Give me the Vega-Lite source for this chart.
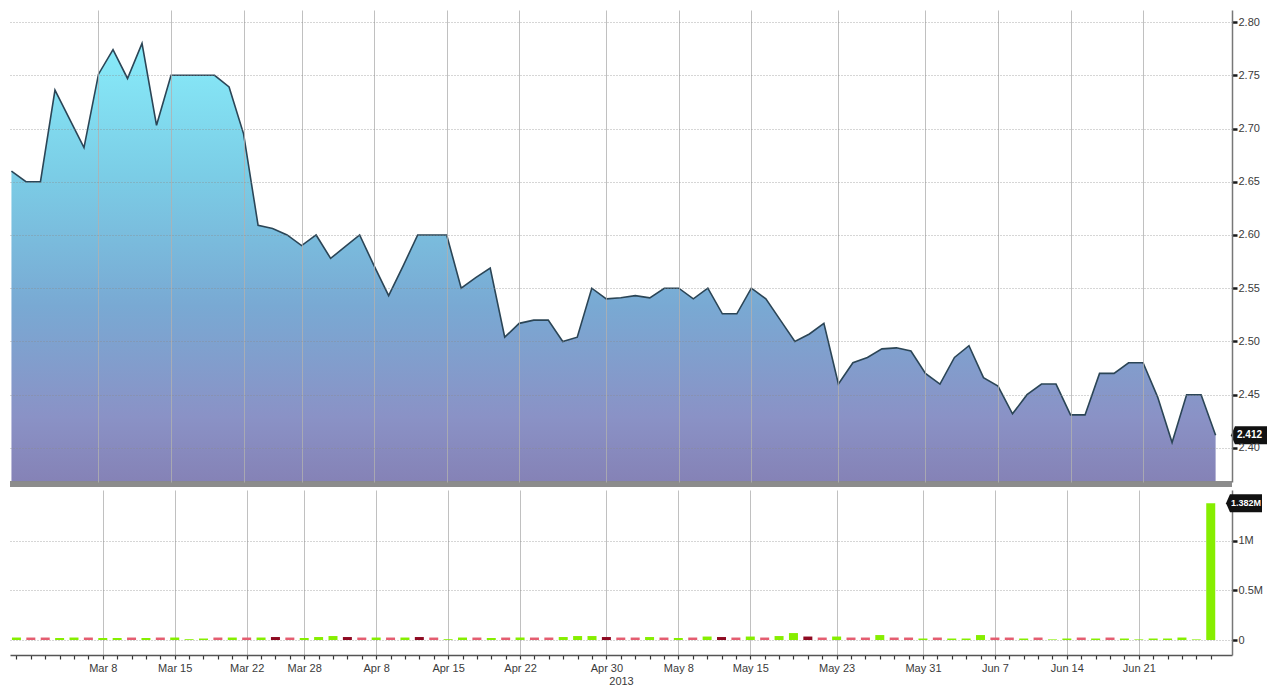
{
  "$schema": "https://vega.github.io/schema/vega-lite/v6.json",
  "padding": {"left": 7, "top": 10, "right": 0, "bottom": 0},
  "background": "white",
  "spacing": 3,
  "config": {
    "view": {"stroke": null},
    "font": "'Liberation Sans Narrow', 'Liberation Sans', sans-serif",
    "axis": {"labelFont": "'Liberation Sans Narrow', 'Liberation Sans', sans-serif", "labelFontSize": 11, "labelColor": "#3a3a3a", "titleFont": "'Liberation Sans Narrow', 'Liberation Sans', sans-serif"}
  },
  "datasets": {
    "d": [
      {"i": 0, "date": "2013-02-28", "p": 2.660, "v": 25000, "c": "up"},
      {"i": 1, "date": "2013-03-01", "p": 2.650, "v": 25000, "c": "dn"},
      {"i": 2, "date": "2013-03-04", "p": 2.650, "v": 25000, "c": "dn"},
      {"i": 3, "date": "2013-03-05", "p": 2.736, "v": 20000, "c": "up"},
      {"i": 4, "date": "2013-03-06", "p": 2.709, "v": 25000, "c": "up"},
      {"i": 5, "date": "2013-03-07", "p": 2.682, "v": 25000, "c": "dn"},
      {"i": 6, "date": "2013-03-08", "p": 2.751, "v": 20000, "c": "up"},
      {"i": 7, "date": "2013-03-11", "p": 2.774, "v": 20000, "c": "up"},
      {"i": 8, "date": "2013-03-12", "p": 2.747, "v": 25000, "c": "dn"},
      {"i": 9, "date": "2013-03-13", "p": 2.780, "v": 20000, "c": "up"},
      {"i": 10, "date": "2013-03-14", "p": 2.703, "v": 25000, "c": "dn"},
      {"i": 11, "date": "2013-03-15", "p": 2.750, "v": 25000, "c": "up"},
      {"i": 12, "date": "2013-03-18", "p": 2.750, "v": 8000, "c": "up"},
      {"i": 13, "date": "2013-03-19", "p": 2.750, "v": 15000, "c": "up"},
      {"i": 14, "date": "2013-03-20", "p": 2.750, "v": 25000, "c": "dn"},
      {"i": 15, "date": "2013-03-21", "p": 2.739, "v": 25000, "c": "up"},
      {"i": 16, "date": "2013-03-22", "p": 2.695, "v": 25000, "c": "dn"},
      {"i": 17, "date": "2013-03-25", "p": 2.609, "v": 25000, "c": "up"},
      {"i": 18, "date": "2013-03-26", "p": 2.606, "v": 30000, "c": "dk"},
      {"i": 19, "date": "2013-03-27", "p": 2.600, "v": 25000, "c": "dn"},
      {"i": 20, "date": "2013-03-28", "p": 2.590, "v": 20000, "c": "up"},
      {"i": 21, "date": "2013-04-02", "p": 2.600, "v": 30000, "c": "up"},
      {"i": 22, "date": "2013-04-03", "p": 2.578, "v": 40000, "c": "up"},
      {"i": 23, "date": "2013-04-04", "p": 2.589, "v": 30000, "c": "dk"},
      {"i": 24, "date": "2013-04-05", "p": 2.600, "v": 25000, "c": "dn"},
      {"i": 25, "date": "2013-04-08", "p": 2.571, "v": 25000, "c": "up"},
      {"i": 26, "date": "2013-04-09", "p": 2.543, "v": 25000, "c": "dn"},
      {"i": 27, "date": "2013-04-10", "p": 2.571, "v": 25000, "c": "up"},
      {"i": 28, "date": "2013-04-11", "p": 2.600, "v": 30000, "c": "dk"},
      {"i": 29, "date": "2013-04-12", "p": 2.600, "v": 25000, "c": "dn"},
      {"i": 30, "date": "2013-04-15", "p": 2.600, "v": 8000, "c": "up"},
      {"i": 31, "date": "2013-04-16", "p": 2.550, "v": 25000, "c": "up"},
      {"i": 32, "date": "2013-04-17", "p": 2.560, "v": 25000, "c": "dn"},
      {"i": 33, "date": "2013-04-18", "p": 2.569, "v": 20000, "c": "up"},
      {"i": 34, "date": "2013-04-19", "p": 2.504, "v": 25000, "c": "dn"},
      {"i": 35, "date": "2013-04-22", "p": 2.517, "v": 25000, "c": "up"},
      {"i": 36, "date": "2013-04-23", "p": 2.520, "v": 25000, "c": "dn"},
      {"i": 37, "date": "2013-04-24", "p": 2.520, "v": 25000, "c": "dn"},
      {"i": 38, "date": "2013-04-25", "p": 2.500, "v": 30000, "c": "up"},
      {"i": 39, "date": "2013-04-26", "p": 2.504, "v": 40000, "c": "up"},
      {"i": 40, "date": "2013-04-29", "p": 2.550, "v": 40000, "c": "up"},
      {"i": 41, "date": "2013-04-30", "p": 2.540, "v": 30000, "c": "dk"},
      {"i": 42, "date": "2013-05-02", "p": 2.541, "v": 25000, "c": "dn"},
      {"i": 43, "date": "2013-05-03", "p": 2.543, "v": 25000, "c": "dn"},
      {"i": 44, "date": "2013-05-06", "p": 2.541, "v": 30000, "c": "up"},
      {"i": 45, "date": "2013-05-07", "p": 2.550, "v": 25000, "c": "dn"},
      {"i": 46, "date": "2013-05-08", "p": 2.550, "v": 20000, "c": "up"},
      {"i": 47, "date": "2013-05-09", "p": 2.540, "v": 25000, "c": "dn"},
      {"i": 48, "date": "2013-05-10", "p": 2.550, "v": 35000, "c": "up"},
      {"i": 49, "date": "2013-05-13", "p": 2.526, "v": 30000, "c": "dk"},
      {"i": 50, "date": "2013-05-14", "p": 2.526, "v": 25000, "c": "dn"},
      {"i": 51, "date": "2013-05-15", "p": 2.550, "v": 35000, "c": "up"},
      {"i": 52, "date": "2013-05-16", "p": 2.540, "v": 25000, "c": "dn"},
      {"i": 53, "date": "2013-05-17", "p": 2.520, "v": 40000, "c": "up"},
      {"i": 54, "date": "2013-05-20", "p": 2.500, "v": 70000, "c": "up"},
      {"i": 55, "date": "2013-05-21", "p": 2.507, "v": 35000, "c": "dk"},
      {"i": 56, "date": "2013-05-22", "p": 2.517, "v": 25000, "c": "dn"},
      {"i": 57, "date": "2013-05-23", "p": 2.460, "v": 35000, "c": "up"},
      {"i": 58, "date": "2013-05-24", "p": 2.480, "v": 25000, "c": "dn"},
      {"i": 59, "date": "2013-05-27", "p": 2.485, "v": 25000, "c": "dn"},
      {"i": 60, "date": "2013-05-28", "p": 2.493, "v": 50000, "c": "up"},
      {"i": 61, "date": "2013-05-29", "p": 2.494, "v": 25000, "c": "dn"},
      {"i": 62, "date": "2013-05-30", "p": 2.491, "v": 25000, "c": "dn"},
      {"i": 63, "date": "2013-05-31", "p": 2.470, "v": 15000, "c": "up"},
      {"i": 64, "date": "2013-06-03", "p": 2.460, "v": 25000, "c": "dn"},
      {"i": 65, "date": "2013-06-04", "p": 2.485, "v": 15000, "c": "up"},
      {"i": 66, "date": "2013-06-05", "p": 2.496, "v": 15000, "c": "up"},
      {"i": 67, "date": "2013-06-06", "p": 2.466, "v": 50000, "c": "up"},
      {"i": 68, "date": "2013-06-07", "p": 2.458, "v": 25000, "c": "dn"},
      {"i": 69, "date": "2013-06-10", "p": 2.432, "v": 25000, "c": "dn"},
      {"i": 70, "date": "2013-06-11", "p": 2.450, "v": 15000, "c": "up"},
      {"i": 71, "date": "2013-06-12", "p": 2.460, "v": 25000, "c": "dn"},
      {"i": 72, "date": "2013-06-13", "p": 2.460, "v": 6000, "c": "up"},
      {"i": 73, "date": "2013-06-14", "p": 2.431, "v": 15000, "c": "up"},
      {"i": 74, "date": "2013-06-17", "p": 2.431, "v": 25000, "c": "dn"},
      {"i": 75, "date": "2013-06-18", "p": 2.470, "v": 15000, "c": "up"},
      {"i": 76, "date": "2013-06-19", "p": 2.470, "v": 25000, "c": "dn"},
      {"i": 77, "date": "2013-06-20", "p": 2.480, "v": 15000, "c": "up"},
      {"i": 78, "date": "2013-06-21", "p": 2.480, "v": 6000, "c": "up"},
      {"i": 79, "date": "2013-06-24", "p": 2.448, "v": 15000, "c": "up"},
      {"i": 80, "date": "2013-06-25", "p": 2.405, "v": 15000, "c": "up"},
      {"i": 81, "date": "2013-06-26", "p": 2.450, "v": 25000, "c": "up"},
      {"i": 82, "date": "2013-06-27", "p": 2.450, "v": 6000, "c": "up"},
      {"i": 83, "date": "2013-06-28", "p": 2.412, "v": 1382000, "c": "up"}
    ]
  },
  "vconcat": [
    {
      "width": 1222,
      "height": 472,
      "data": {"name": "d"},
      "layer": [
        {
          "mark": {
            "type": "area",
            "opacity": 1,
            "line": {"color": "#2b4556", "strokeWidth": 1.6},
            "color": {
              "x1": 0, "y1": 0, "x2": 0, "y2": 1,
              "gradient": "linear",
              "stops": [
                {"offset": 0, "color": "#88ecfa"},
                {"offset": 0.3, "color": "#7bcde6"},
                {"offset": 0.6, "color": "#79a9d3"},
                {"offset": 0.85, "color": "#8a92c6"},
                {"offset": 1, "color": "#8582b6"}
              ]
            }
          },
          "encoding": {
            "x": {
              "field": "i", "type": "quantitative",
              "scale": {"domain": [-0.1, 84.13], "nice": false, "zero": false},
              "axis": {
                "title": null, "labels": false, "ticks": false, "domain": false, "zindex": 1,
                "values": [6, 11, 16, 20, 25, 30, 35, 41, 46, 51, 57, 63, 68, 73, 78],
                "tickCount": 200,
                "grid": true, "gridColor": "#b0b0b0", "gridOpacity": 0.8, "gridWidth": 1
              }
            },
            "y": {
              "field": "p", "type": "quantitative",
              "scale": {"domain": [2.368, 2.8113], "nice": false, "zero": false},
              "axis": {
                "orient": "right", "title": null, "zindex": 1,
                "values": [2.4, 2.45, 2.5, 2.55, 2.6, 2.65, 2.7, 2.75, 2.8],
                "format": ".2f",
                "grid": true, "gridColor": "#8a8a8a", "gridOpacity": 0.7, "gridDash": [1, 2],
                "tickSize": 5, "tickWidth": 2.5, "tickColor": "#1a1a1a",
                "domainColor": "#777", "domainWidth": 1.5, "labelPadding": 1
              }
            },
            "y2": {"datum": 2.368}
          }
        },
        {
          "mark": {"type": "rule", "color": "#8c8c8c", "strokeWidth": 5},
          "encoding": {"y": {"datum": 2.366}}
        },
        {
          "transform": [{"filter": "datum.i == 83"}],
          "mark": {"type": "point", "filled": true, "opacity": 1, "color": "#111", "size": 1296, "xOffset": 17,
                   "shape": "M-1,0 L-0.78,-0.5 L1,-0.5 L1,0.5 L-0.78,0.5 Z"},
          "encoding": {"x": {"datum": 84.13}, "y": {"field": "p", "type": "quantitative"}}
        },
        {
          "transform": [{"filter": "datum.i == 83"}],
          "mark": {"type": "text", "color": "white", "align": "left", "baseline": "middle", "dx": 5, "fontSize": 10, "fontWeight": "bold", "font": "'Liberation Sans Narrow', 'Liberation Sans', sans-serif"},
          "encoding": {"x": {"datum": 84.13}, "y": {"field": "p", "type": "quantitative"}, "text": {"field": "p", "format": ".3f"}}
        }
      ]
    },
    {
      "width": 1222,
      "height": 165,
      "data": {"name": "d"},
      "layer": [
        {
          "mark": {"type": "bar", "size": 9},
          "encoding": {
            "x": {
              "field": "i", "type": "quantitative",
              "scale": {"domain": [-0.1, 84.13], "nice": false, "zero": false},
              "axis": {
                "title": "2013", "titleFontSize": 11, "titleFontWeight": "normal", "titleColor": "#3a3a3a", "titlePadding": 2,
                "values": [0,1,2,3,4,5,6,7,8,9,10,11,12,13,14,15,16,17,18,19,20,21,22,23,24,25,26,27,28,29,30,31,32,33,34,35,36,37,38,39,40,41,42,43,44,45,46,47,48,49,50,51,52,53,54,55,56,57,58,59,60,61,62,63,64,65,66,67,68,69,70,71,72,73,74,75,76,77,78,79,80,81,82,83],
                "tickCount": 200,
                "labelExpr": "{'6':'Mar 8','11':'Mar 15','16':'Mar 22','20':'Mar 28','25':'Apr 8','30':'Apr 15','35':'Apr 22','41':'Apr 30','46':'May 8','51':'May 15','57':'May 23','63':'May 31','68':'Jun 7','73':'Jun 14','78':'Jun 21'}[datum.value] || ''",
                "labelFlush": false, "labelOverlap": false, "labelPadding": 3,
                "tickSize": 4, "tickColor": "#333", "tickWidth": 1.2,
                "domainColor": "#555", "domainWidth": 1.5,
                "grid": true, "gridColor": "#b0b0b0", "zindex": 0,
                "gridOpacity": {"condition": {"test": "indexof([6,11,16,20,25,30,35,41,46,51,57,63,68,73,78], datum.value) >= 0", "value": 0.8}, "value": 0}
              }
            },
            "y": {
              "field": "v", "type": "quantitative",
              "scale": {"domain": [-151500, 1515000], "nice": false, "zero": false},
              "axis": {
                "orient": "right", "title": null,
                "values": [0, 500000, 1000000],
                "labelExpr": "datum.value == 0 ? '0' : format(datum.value / 1000000, '~g') + 'M'",
                "grid": true, "gridColor": "#8a8a8a", "gridOpacity": 0.7, "gridDash": [1, 2],
                "tickSize": 5, "tickWidth": 2.5, "tickColor": "#1a1a1a",
                "domainColor": "#777", "domainWidth": 1.5, "labelPadding": 1
              }
            },
            "color": {
              "field": "c", "type": "nominal", "legend": null,
              "scale": {"domain": ["up", "dn", "dk"], "range": ["#86ee00", "#e45d70", "#8e0a22"]}
            }
          }
        },
        {
          "transform": [{"filter": "datum.i == 83"}],
          "mark": {"type": "point", "filled": true, "opacity": 1, "color": "#111", "size": 1296, "xOffset": 17,
                   "shape": "M-1,0 L-0.78,-0.5 L1,-0.5 L1,0.5 L-0.78,0.5 Z"},
          "encoding": {"x": {"datum": 84.13}, "y": {"field": "v", "type": "quantitative"}}
        },
        {
          "transform": [{"filter": "datum.i == 83"}],
          "mark": {"type": "text", "color": "white", "align": "left", "baseline": "middle", "dx": 4, "fontSize": 9, "fontWeight": "bold", "font": "'Liberation Sans Narrow', 'Liberation Sans', sans-serif"},
          "encoding": {"x": {"datum": 84.13}, "y": {"field": "v", "type": "quantitative"}, "text": {"field": "v", "format": ".4s"}}
        }
      ]
    }
  ]
}
